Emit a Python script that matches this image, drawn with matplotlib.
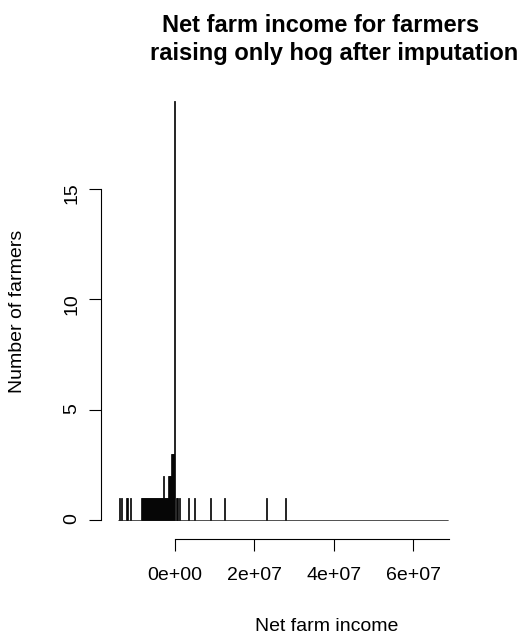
import numpy as np
import matplotlib
matplotlib.use("Agg")
import matplotlib.pyplot as plt
from matplotlib.ticker import FuncFormatter

plt.rcParams["font.family"] = ["Liberation Sans", "DejaVu Sans"]

# Net farm income of hog-only farmers (pesos)
# scattered farmers outside the dense cluster near zero
tail_income = [-14.0e6, -13.3e6, -12.1e6, -11.8e6, -11.1e6,
               0.35e6, 0.6e6, 1.2e6, 3.4e6, 4.9e6, 9.1e6, 12.5e6, 23.0e6, 27.9e6]
# dense cluster: number of farmers in each 250,000 bin from -8.5e6 up to 0
cluster_start = -8.5e6
cluster_counts = [1, 1, 1, 1, 1, 1, 1, 1, 1, 1, 1,
                  1, 1, 1, 1, 1, 1, 1, 1, 1, 1, 1,
                  2, 1, 1, 1, 1, 2, 2, 2, 3, 3, 3, 19]

bin_width = 0.25e6
hist_from = -14.25e6
hist_to = 68.75e6

x_ticks = [0, 2e7, 4e7, 6e7]
y_ticks = [0, 5, 10, 15]

W, H = 532, 636
fig = plt.figure(figsize=(W / 100, H / 100), dpi=100)


def px(x, y):
    return x / W, 1 - y / H


# plot region in pixels (the right part is cut off like in the original)
left, right, top, bottom = 101, 553, 82, 539
ax = fig.add_axes([left / W, 1 - bottom / H, (right - left) / W, (bottom - top) / H])

edges = np.arange(hist_from, hist_to + bin_width / 2, bin_width)
cluster_mid = cluster_start + bin_width * (np.arange(len(cluster_counts)) + 0.5)
values = np.concatenate([tail_income, np.repeat(cluster_mid, cluster_counts)])

ax.hist(values, bins=edges, fill=False, edgecolor="black", linewidth=0.6)

ax.set_xlim(-18.54e6, 95.2e6)
ax.set_ylim(-0.861, 19.85)

for side in ["top", "right"]:
    ax.spines[side].set_visible(False)
ax.spines["left"].set_bounds(0, 15)
ax.spines["bottom"].set_bounds(0, 69.0e6)
for side in ["left", "bottom"]:
    ax.spines[side].set_linewidth(0.8)

ax.set_xticks(x_ticks)
ax.set_yticks(y_ticks)
ax.xaxis.set_major_formatter(FuncFormatter(lambda v, p: f"{v:.0e}"))
ax.tick_params(axis="both", direction="out", length=8.5, width=0.8, labelsize=14)
ax.tick_params(axis="x", pad=12)
ax.tick_params(axis="y", pad=6.5, labelrotation=90)

fig.text(*px(320.5, 31.7), "Net farm income for farmers", ha="center", va="baseline",
         fontsize=17, fontweight="bold")
fig.text(*px(334.5, 60), "raising only hog after imputation", ha="center", va="baseline",
         fontsize=17, fontweight="bold")
fig.text(*px(327, 631), "Net farm income", ha="center", va="baseline", fontsize=14)
fig.text(*px(18, 311), "Number of farmers", ha="center", va="center", rotation=90,
         fontsize=14)

fig.savefig("out.png", dpi=100)
